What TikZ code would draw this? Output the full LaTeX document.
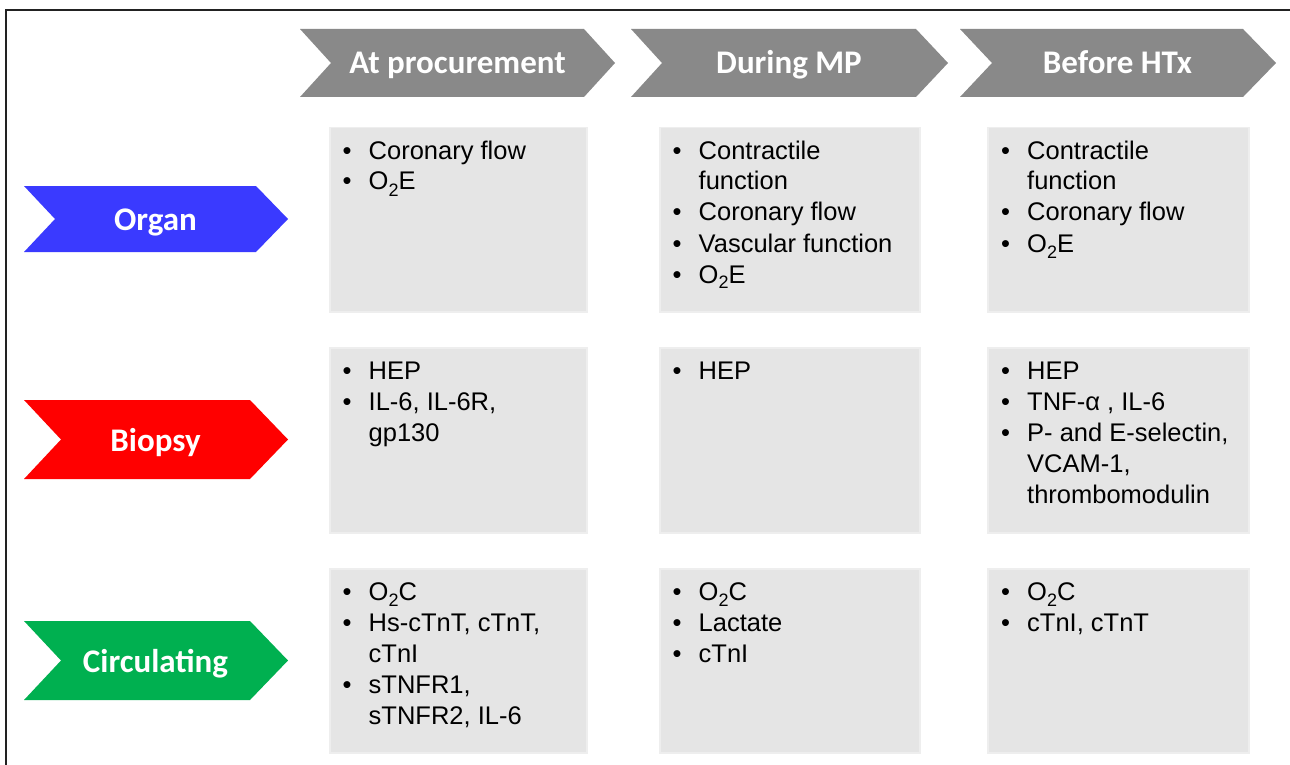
\documentclass[tikz,border=0pt]{standalone}
\usepackage{fontspec}
\setmainfont{Liberation Sans}
\newfontfamily\calfont{Carlito}
\definecolor{hdrgray}{HTML}{898989}
\definecolor{boxfill}{HTML}{E5E5E5}
\definecolor{boxline}{HTML}{EEEEEE}
\definecolor{framecol}{HTML}{222222}
\definecolor{organblue}{HTML}{3A3AFF}
\definecolor{biopsyred}{HTML}{FF0000}
\definecolor{circgreen}{HTML}{00B050}
\newcommand{\bl}{\makebox[26pt][l]{\textbullet}}
\newcommand{\ind}{\hspace*{26pt}}
\newcommand{\lowsub}[1]{\raisebox{-6pt}{\fontsize{18}{18}\selectfont #1}}
\begin{document}
\begin{tikzpicture}[x=1pt,y=-1pt,
  hdr/.style={fill=hdrgray},
  boxst/.style={fill=boxfill, draw=boxline, line width=1.5pt, anchor=north west, inner sep=0},
  lab/.style={font=\calfont\bfseries\fontsize{33}{36}\selectfont, text=white, anchor=base, inner sep=0},
  txt/.style={font=\fontsize{25.5}{31}\selectfont, anchor=base west, inner sep=0},
]
\useasboundingbox (0,0) rectangle (1290,765);
\fill[white] (0,0) rectangle (1290,765);
\draw[line width=2.5pt, framecol] (6,765) -- (6,10) -- (1290,10);

% header chevrons
\fill[hdr] (300,29) -- (584,29) -- (615,63) -- (584,97) -- (300,97) -- (331,63) -- cycle;
\node[lab] (h1) at (457.5,74) {At procurement};
\fill[hdr] (631,29) -- (916,29) -- (948,63) -- (916,97) -- (631,97) -- (662,63) -- cycle;
\node[lab] (h2) at (789,74) {During MP};
\fill[hdr] (960,29) -- (1243,29) -- (1276,63) -- (1243,97) -- (960,97) -- (992,63) -- cycle;
\node[lab] (h3) at (1117.5,74) {Before HTx};

% row chevrons
\fill[organblue] (24,186) -- (256,186) -- (288,219) -- (256,252) -- (24,252) -- (55,219) -- cycle;
\node[lab] (r1) at (155.5,230.5) {Organ};
\fill[biopsyred] (24,400) -- (250,400) -- (288,439.5) -- (250,479) -- (24,479) -- (61,439.5) -- cycle;
\node[lab] (r2) at (155.5,451) {Biopsy};
\fill[circgreen] (24,621) -- (250,621) -- (288,660.5) -- (250,700) -- (24,700) -- (61,660.5) -- cycle;
\node[lab] (r3) at (155.5,672) {Circulating};

% boxes
\node[boxst, minimum width=257pt, minimum height=184pt] (b11) at (329,127) {};
\node[boxst, minimum width=260pt, minimum height=184pt] (b21) at (659,127) {};
\node[boxst, minimum width=261pt, minimum height=184pt] (b31) at (987,127) {};
\node[boxst, minimum width=257pt, minimum height=185pt] (b12) at (329,347) {};
\node[boxst, minimum width=260pt, minimum height=185pt] (b22) at (659,347) {};
\node[boxst, minimum width=261pt, minimum height=185pt] (b32) at (987,347) {};
\node[boxst, minimum width=257pt, minimum height=184pt] (b13) at (329,568) {};
\node[boxst, minimum width=260pt, minimum height=184pt] (b23) at (659,568) {};
\node[boxst, minimum width=261pt, minimum height=184pt] (b33) at (987,568) {};

% texts
\node[txt] (t11) at (342.5,159) {\begin{tabular}[t]{@{}l@{}}
\bl Coronary flow\\
\bl O\lowsub{2}E
\end{tabular}};
\node[txt] (t21) at (672.5,159) {\begin{tabular}[t]{@{}l@{}}
\bl Contractile\\
\ind function\\
\bl Coronary flow\\
\bl Vascular function\\
\bl O\lowsub{2}E
\end{tabular}};
\node[txt] (t31) at (1001,159) {\begin{tabular}[t]{@{}l@{}}
\bl Contractile\\
\ind function\\
\bl Coronary flow\\
\bl O\lowsub{2}E
\end{tabular}};
\node[txt] (t12) at (342.5,379) {\begin{tabular}[t]{@{}l@{}}
\bl HEP\\
\bl IL-6, IL-6R,\\
\ind gp130
\end{tabular}};
\node[txt] (t22) at (672.5,379) {\begin{tabular}[t]{@{}l@{}}
\bl HEP
\end{tabular}};
\node[txt] (t32) at (1001,379) {\begin{tabular}[t]{@{}l@{}}
\bl HEP\\
\bl TNF-α , IL-6\\
\bl P- and E-selectin,\\
\ind VCAM-1,\\
\ind thrombomodulin
\end{tabular}};
\node[txt] (t13) at (342.5,600) {\begin{tabular}[t]{@{}l@{}}
\bl O\lowsub{2}C\\
\bl Hs-cTnT, cTnT,\\
\ind cTnI\\
\bl sTNFR1,\\
\ind sTNFR2, IL-6
\end{tabular}};
\node[txt] (t23) at (672.5,600) {\begin{tabular}[t]{@{}l@{}}
\bl O\lowsub{2}C\\
\bl Lactate\\
\bl cTnI
\end{tabular}};
\node[txt] (t33) at (1001,600) {\begin{tabular}[t]{@{}l@{}}
\bl O\lowsub{2}C\\
\bl cTnI, cTnT
\end{tabular}};
\end{tikzpicture}
\end{document}
